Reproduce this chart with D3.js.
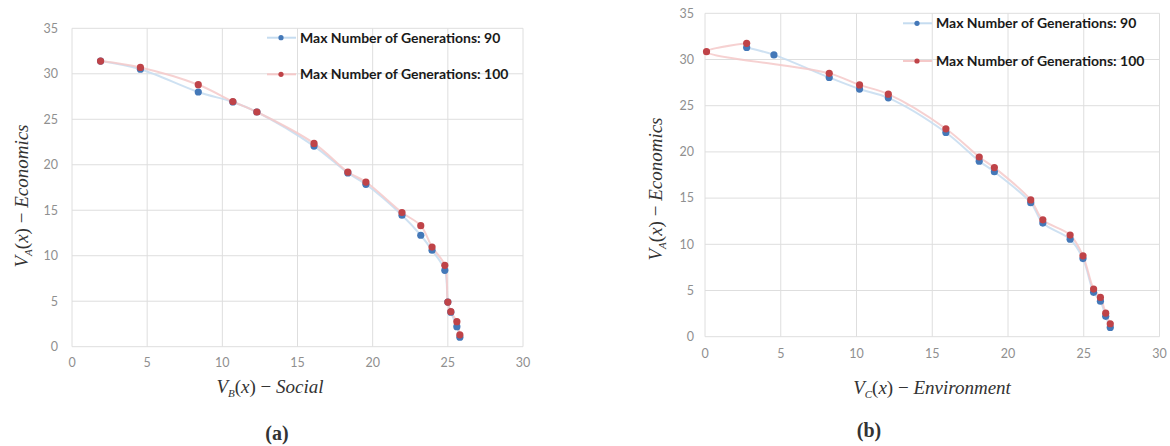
<!DOCTYPE html>
<html>
<head>
<meta charset="utf-8">
<script src="https://cdn.jsdelivr.net/npm/d3@7"></script>
<style>
  body { margin: 0; background: #fff; }
  .tick-label { font-family: Lato, "Open Sans", sans-serif; font-size: 12.5px; fill: #8f8f8f; }
  .legend-text { font-family: Lato, "Open Sans", sans-serif; font-size: 14px; font-weight: 700; fill: #1a1a1a; }
  .axis-title { font-family: "Liberation Serif", "DejaVu Serif", serif; font-size: 19px; fill: #333; }
  .panel-label { font-family: "Liberation Serif", "DejaVu Serif", serif; font-size: 20px; font-weight: 700; fill: #333; }
</style>
</head>
<body>
<svg id="chart" width="1170" height="446"></svg>
<script>
// ---- data ----
var xTicks = [0, 5, 10, 15, 20, 25, 30];
var yTicks = [0, 5, 10, 15, 20, 25, 30, 35];
var seriesNames = ["Max Number of Generations: 90", "Max Number of Generations: 100"];

// (a) social vs economics
var socialX90 = [1.9, 4.55, 8.4, 10.7, 12.3, 16.1, 18.35, 19.55, 21.95, 23.2, 23.95, 24.8, 25.0, 25.2, 25.6, 25.8];
var econA90 = [31.4, 30.5, 28.0, 26.9, 25.8, 22.05, 19.1, 17.85, 14.45, 12.25, 10.6, 8.4, 4.9, 3.8, 2.2, 1.05];
var socialX100 = [1.9, 4.55, 8.4, 10.7, 12.3, 16.1, 18.35, 19.55, 21.95, 23.2, 23.95, 24.8, 25.0, 25.2, 25.6, 25.8];
var econA100 = [31.4, 30.7, 28.8, 26.95, 25.8, 22.35, 19.2, 18.1, 14.75, 13.3, 10.95, 8.95, 4.9, 3.85, 2.75, 1.3];

// (b) environment vs economics
var envX90 = [2.75, 4.55, 8.2, 10.2, 12.1, 15.9, 18.1, 19.1, 21.5, 22.3, 24.1, 24.95, 25.65, 26.1, 26.45, 26.75];
var econB90 = [31.3, 30.5, 28.05, 26.8, 25.85, 22.1, 19.0, 17.85, 14.5, 12.3, 10.55, 8.45, 4.8, 3.85, 2.2, 1.0];
var envX100 = [2.75, 0.1, 8.2, 10.2, 12.1, 15.9, 18.1, 19.1, 21.5, 22.3, 24.1, 24.95, 25.65, 26.1, 26.45, 26.75];
var econB100 = [31.75, 30.85, 28.5, 27.25, 26.25, 22.5, 19.45, 18.3, 14.8, 12.65, 11.0, 8.75, 5.15, 4.25, 2.55, 1.4];

var markColors = ["#4478b8", "#bf4348"];
var lineColors = ["#c5dcf0", "#f5c9c9"];

var svg = d3.select('#chart');

function zip(xs, ys) {
    return xs.map((x, i) => ({ x: x, y: ys[i] }));
}

function drawPanel(cfg) {
    var x = d3.scaleLinear().domain([0, 30]).range([cfg.left, cfg.right]);
    var y = d3.scaleLinear().domain([0, 35]).range([cfg.bottom, cfg.top]);
    var g = svg.append('g');

    // gridlines
    g.selectAll('.vgrid').data(xTicks).enter().append('line')
        .attr('x1', d => x(d)).attr('x2', d => x(d))
        .attr('y1', y(0)).attr('y2', y(35))
        .attr('stroke', '#dedede').attr('stroke-width', 1);
    g.selectAll('.hgrid').data(yTicks).enter().append('line')
        .attr('x1', x(0)).attr('x2', x(30))
        .attr('y1', d => y(d)).attr('y2', d => y(d))
        .attr('stroke', '#dedede').attr('stroke-width', 1);

    // tick labels
    g.selectAll('.xlab').data(xTicks).enter().append('text')
        .attr('class', 'tick-label')
        .attr('x', d => x(d)).attr('y', cfg.xLabelY)
        .attr('text-anchor', 'middle').attr('dy', '0.35em')
        .text(d => d);
    g.selectAll('.ylab').data(yTicks).enter().append('text')
        .attr('class', 'tick-label')
        .attr('x', cfg.yLabelX).attr('y', d => y(d))
        .attr('text-anchor', 'end').attr('dy', '0.35em')
        .text(d => d);

    var line = d3.line()
        .x(d => x(d.x)).y(d => y(d.y))
        .curve(d3.curveCatmullRom);

    // lines first, then markers on top
    cfg.series.forEach((s, i) => {
        g.append('path')
            .datum(s)
            .attr('d', line)
            .attr('fill', 'none')
            .attr('stroke', lineColors[i])
            .attr('stroke-width', 2)
            .attr('opacity', 0.85);
    });
    cfg.series.forEach((s, i) => {
        g.selectAll('.pt' + i).data(s).enter().append('circle')
            .attr('cx', d => x(d.x)).attr('cy', d => y(d.y))
            .attr('r', 3.6)
            .attr('fill', markColors[i]);
    });

    // legend
    seriesNames.forEach((name, i) => {
        var ly = cfg.legendY[i];
        g.append('line')
            .attr('x1', cfg.legendX - 14).attr('x2', cfg.legendX + 15)
            .attr('y1', ly).attr('y2', ly)
            .attr('stroke', lineColors[i]).attr('stroke-width', 2);
        g.append('circle')
            .attr('cx', cfg.legendX).attr('cy', ly).attr('r', 2.6)
            .attr('fill', markColors[i]);
        g.append('text')
            .attr('class', 'legend-text')
            .attr('x', cfg.legendX + 19).attr('y', ly).attr('dy', '0.35em')
            .text(name);
    });

    // y title (rotated)
    var yt = g.append('text')
        .attr('class', 'axis-title')
        .attr('text-anchor', 'middle')
        .attr('transform', 'translate(' + cfg.yTitle[0] + ',' + cfg.yTitle[1] + ') rotate(-90)')
        .attr('dy', '0.35em');
    addMath(yt, 'A', 'Economics');

    var xt = g.append('text')
        .attr('class', 'axis-title')
        .attr('text-anchor', 'middle')
        .attr('x', cfg.xTitle[0]).attr('y', cfg.xTitle[1])
        .attr('dy', '0.35em');
    addMath(xt, cfg.sub, cfg.word);

    g.append('text')
        .attr('class', 'panel-label')
        .attr('text-anchor', 'middle')
        .attr('x', cfg.label[0]).attr('y', cfg.label[1])
        .attr('dy', '0.35em')
        .text(cfg.labelText);
}

function addMath(t, sub, word) {
    t.append('tspan').attr('font-style', 'italic').text('V');
    t.append('tspan').attr('font-style', 'italic').attr('font-size', '11px').attr('dy', '4').text(sub);
    t.append('tspan').attr('dy', '-4').text('(');
    t.append('tspan').attr('font-style', 'italic').text('x');
    t.append('tspan').text(') \u2212 ');
    t.append('tspan').attr('font-style', 'italic').text(word);
}

drawPanel({
    left: 72, right: 523, top: 28.3, bottom: 346.7,
    xLabelY: 363, yLabelX: 58,
    series: [zip(socialX90, econA90), zip(socialX100, econA100)],
    legendX: 281, legendY: [37.7, 74.3],
    yTitle: [21, 196], xTitle: [270, 386], sub: 'B', word: 'Social',
    label: [277, 433], labelText: '(a)'
});

drawPanel({
    left: 705, right: 1159.5, top: 13.3, bottom: 336.7,
    xLabelY: 354, yLabelX: 694,
    series: [zip(envX90, econB90), zip(envX100, econB100)],
    legendX: 917, legendY: [23.3, 61],
    yTitle: [655, 189], xTitle: [932, 387], sub: 'C', word: 'Environment',
    label: [869, 430], labelText: '(b)'
});
</script>
</body>
</html>
